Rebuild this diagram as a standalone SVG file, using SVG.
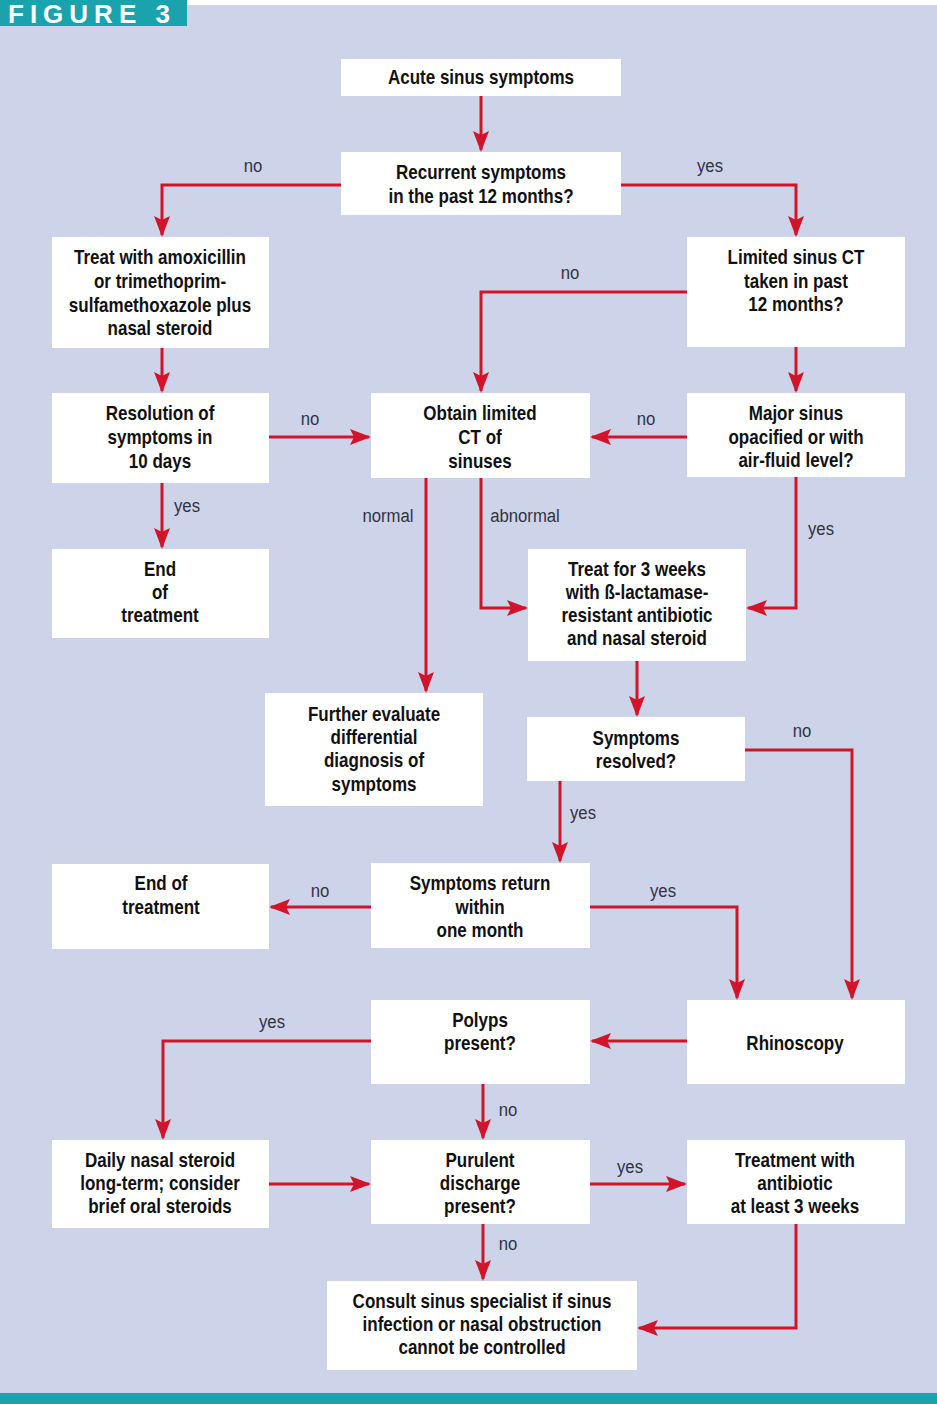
<svg xmlns="http://www.w3.org/2000/svg" width="937" height="1404" viewBox="0 0 937 1404">
<style>
.bx{fill:#ffffff}
.t{font-family:"Liberation Sans",Arial,sans-serif;font-weight:bold;font-size:21px;fill:#111111;text-anchor:middle}
.l{font-family:"Liberation Sans",Arial,sans-serif;font-size:19px;fill:#333340;text-anchor:middle}
.c{fill:none;stroke:#d2142a;stroke-width:3;marker-end:url(#ah)}
</style>
<defs>
<marker id="ah" markerUnits="userSpaceOnUse" markerWidth="24" markerHeight="18" refX="19" refY="9" orient="auto">
<path d="M0,1 L21,9 L0,17 L4,9 z" fill="#d2142a"/>
</marker>
</defs>
<rect x="0" y="0" width="937" height="1404" fill="#ffffff"/>
<rect x="0" y="5" width="937" height="1390" fill="#cdd4ea"/>
<rect x="0" y="1393" width="937" height="11" fill="#1ba3ad"/>
<g id="header">
<rect x="0" y="0" width="187" height="26" fill="#1ba3ad"/>
<text x="8" y="23" font-family="Liberation Sans,Arial,sans-serif" font-weight="bold" font-size="26" letter-spacing="6" fill="#ffffff">FIGURE 3</text>
</g>
<g id="connectors">
<path class="c" d="M481,96 V150"/>
<path class="c" d="M341,185 H162 V235"/>
<path class="c" d="M621,185 H796 V235"/>
<path class="c" d="M687,292 H481 V391"/>
<path class="c" d="M796,347 V391"/>
<path class="c" d="M162,348 V391"/>
<path class="c" d="M269,437 H369"/>
<path class="c" d="M687,437 H592"/>
<path class="c" d="M162,483 V547"/>
<path class="c" d="M426,478 V691"/>
<path class="c" d="M481,478 V608 H526"/>
<path class="c" d="M796,477 V608 H748"/>
<path class="c" d="M637,661 V715"/>
<path class="c" d="M560,781 V861"/>
<path class="c" d="M745,750 H852 V998"/>
<path class="c" d="M371,907 H271"/>
<path class="c" d="M590,907 H737 V998"/>
<path class="c" d="M687,1041 H592"/>
<path class="c" d="M371,1041 H163 V1138"/>
<path class="c" d="M483,1084 V1138"/>
<path class="c" d="M269,1184 H369"/>
<path class="c" d="M590,1184 H685"/>
<path class="c" d="M483,1224 V1279"/>
<path class="c" d="M796,1224 V1328 H639"/>
<g id="labels">
<text class="l" transform="translate(253 0) scale(0.88 1)" x="0" y="172">no</text>
<text class="l" transform="translate(710 0) scale(0.88 1)" x="0" y="172">yes</text>
<text class="l" transform="translate(570 0) scale(0.88 1)" x="0" y="279">no</text>
<text class="l" transform="translate(310 0) scale(0.88 1)" x="0" y="425">no</text>
<text class="l" transform="translate(646 0) scale(0.88 1)" x="0" y="425">no</text>
<text class="l" transform="translate(187 0) scale(0.88 1)" x="0" y="512">yes</text>
<text class="l" transform="translate(388 0) scale(0.88 1)" x="0" y="522">normal</text>
<text class="l" transform="translate(525 0) scale(0.88 1)" x="0" y="522">abnormal</text>
<text class="l" transform="translate(821 0) scale(0.88 1)" x="0" y="535">yes</text>
<text class="l" transform="translate(802 0) scale(0.88 1)" x="0" y="737">no</text>
<text class="l" transform="translate(583 0) scale(0.88 1)" x="0" y="819">yes</text>
<text class="l" transform="translate(320 0) scale(0.88 1)" x="0" y="897">no</text>
<text class="l" transform="translate(663 0) scale(0.88 1)" x="0" y="897">yes</text>
<text class="l" transform="translate(272 0) scale(0.88 1)" x="0" y="1028">yes</text>
<text class="l" transform="translate(508 0) scale(0.88 1)" x="0" y="1116">no</text>
<text class="l" transform="translate(630 0) scale(0.88 1)" x="0" y="1173">yes</text>
<text class="l" transform="translate(508 0) scale(0.88 1)" x="0" y="1250">no</text>
</g>
</g>
<g id="n1"><rect class="bx" x="341" y="59" width="280" height="37"/>
<text class="t" transform="translate(481 0) scale(0.81 1)"><tspan x="0" y="84">Acute sinus symptoms</tspan></text></g>
<g id="n2"><rect class="bx" x="341" y="152" width="280" height="63"/>
<text class="t" transform="translate(481 0) scale(0.81 1)"><tspan x="0" y="179">Recurrent symptoms</tspan><tspan x="0" y="203">in the past 12 months?</tspan></text></g>
<g id="n3"><rect class="bx" x="52" y="237" width="217" height="111"/>
<text class="t" transform="translate(160 0) scale(0.81 1)"><tspan x="0" y="264">Treat with amoxicillin</tspan><tspan x="0" y="288">or trimethoprim-</tspan><tspan x="0" y="312">sulfamethoxazole plus</tspan><tspan x="0" y="335">nasal steroid</tspan></text></g>
<g id="n4"><rect class="bx" x="687" y="237" width="218" height="110"/>
<text class="t" transform="translate(796 0) scale(0.81 1)"><tspan x="0" y="264">Limited sinus CT</tspan><tspan x="0" y="288">taken in past</tspan><tspan x="0" y="311">12 months?</tspan></text></g>
<g id="n5"><rect class="bx" x="52" y="393" width="217" height="90"/>
<text class="t" transform="translate(160 0) scale(0.81 1)"><tspan x="0" y="420">Resolution of</tspan><tspan x="0" y="444">symptoms in</tspan><tspan x="0" y="468">10 days</tspan></text></g>
<g id="n6"><rect class="bx" x="371" y="393" width="219" height="85"/>
<text class="t" transform="translate(480 0) scale(0.81 1)"><tspan x="0" y="420">Obtain limited</tspan><tspan x="0" y="444">CT of</tspan><tspan x="0" y="468">sinuses</tspan></text></g>
<g id="n7"><rect class="bx" x="687" y="393" width="218" height="84"/>
<text class="t" transform="translate(796 0) scale(0.81 1)"><tspan x="0" y="420">Major sinus</tspan><tspan x="0" y="444">opacified or with</tspan><tspan x="0" y="467">air-fluid level?</tspan></text></g>
<g id="n8"><rect class="bx" x="52" y="549" width="217" height="89"/>
<text class="t" transform="translate(160 0) scale(0.81 1)"><tspan x="0" y="576">End</tspan><tspan x="0" y="599">of</tspan><tspan x="0" y="622">treatment</tspan></text></g>
<g id="n9"><rect class="bx" x="528" y="549" width="218" height="112"/>
<text class="t" transform="translate(637 0) scale(0.81 1)"><tspan x="0" y="576">Treat for 3 weeks</tspan><tspan x="0" y="599">with ß-lactamase-</tspan><tspan x="0" y="622">resistant antibiotic</tspan><tspan x="0" y="645">and nasal steroid</tspan></text></g>
<g id="n10"><rect class="bx" x="265" y="693" width="218" height="113"/>
<text class="t" transform="translate(374 0) scale(0.81 1)"><tspan x="0" y="721">Further evaluate</tspan><tspan x="0" y="744">differential</tspan><tspan x="0" y="767">diagnosis of</tspan><tspan x="0" y="791">symptoms</tspan></text></g>
<g id="n11"><rect class="bx" x="527" y="717" width="218" height="64"/>
<text class="t" transform="translate(636 0) scale(0.81 1)"><tspan x="0" y="745">Symptoms</tspan><tspan x="0" y="768">resolved?</tspan></text></g>
<g id="n12"><rect class="bx" x="52" y="864" width="217" height="85"/>
<text class="t" transform="translate(161 0) scale(0.81 1)"><tspan x="0" y="890">End of</tspan><tspan x="0" y="914">treatment</tspan></text></g>
<g id="n13"><rect class="bx" x="371" y="863" width="219" height="85"/>
<text class="t" transform="translate(480 0) scale(0.81 1)"><tspan x="0" y="890">Symptoms return</tspan><tspan x="0" y="914">within</tspan><tspan x="0" y="937">one month</tspan></text></g>
<g id="n14"><rect class="bx" x="371" y="1000" width="219" height="84"/>
<text class="t" transform="translate(480 0) scale(0.81 1)"><tspan x="0" y="1027">Polyps</tspan><tspan x="0" y="1050">present?</tspan></text></g>
<g id="n15"><rect class="bx" x="687" y="1000" width="218" height="84"/>
<text class="t" transform="translate(795 0) scale(0.81 1)"><tspan x="0" y="1050">Rhinoscopy</tspan></text></g>
<g id="n16"><rect class="bx" x="52" y="1140" width="217" height="88"/>
<text class="t" transform="translate(160 0) scale(0.81 1)"><tspan x="0" y="1167">Daily nasal steroid</tspan><tspan x="0" y="1190">long-term; consider</tspan><tspan x="0" y="1213">brief oral steroids</tspan></text></g>
<g id="n17"><rect class="bx" x="371" y="1140" width="219" height="84"/>
<text class="t" transform="translate(480 0) scale(0.81 1)"><tspan x="0" y="1167">Purulent</tspan><tspan x="0" y="1190">discharge</tspan><tspan x="0" y="1213">present?</tspan></text></g>
<g id="n18"><rect class="bx" x="687" y="1140" width="218" height="84"/>
<text class="t" transform="translate(795 0) scale(0.81 1)"><tspan x="0" y="1167">Treatment with</tspan><tspan x="0" y="1190">antibiotic</tspan><tspan x="0" y="1213">at least 3 weeks</tspan></text></g>
<g id="n19"><rect class="bx" x="327" y="1281" width="310" height="89"/>
<text class="t" transform="translate(482 0) scale(0.81 1)"><tspan x="0" y="1308">Consult sinus specialist if sinus</tspan><tspan x="0" y="1331">infection or nasal obstruction</tspan><tspan x="0" y="1354">cannot be controlled</tspan></text></g>
</svg>
